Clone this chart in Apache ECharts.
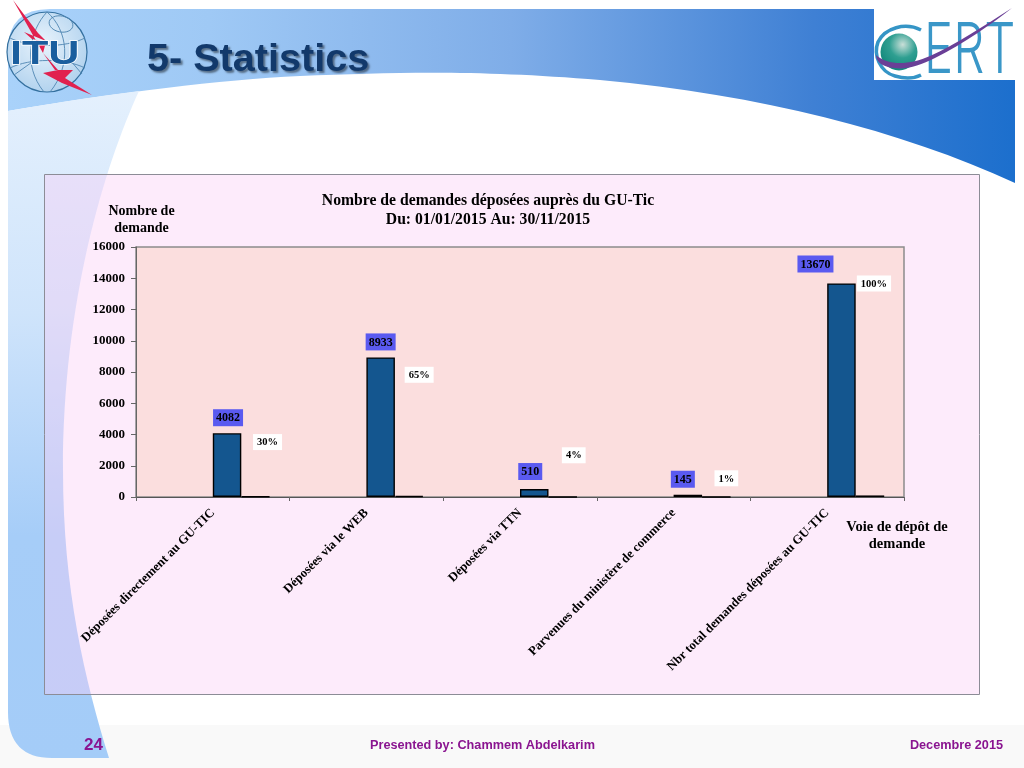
<!DOCTYPE html>
<html><head><meta charset="utf-8">
<style>html,body{margin:0;padding:0;background:#fff}#c{width:1024px;height:768px}</style>
<script src="https://cdn.jsdelivr.net/npm/echarts@6/dist/echarts.min.js"></script>
</head><body><div id="c"></div>
<script>
const categories = ['Déposées directement au GU-TIC','Déposées via le WEB','Déposées via TTN','Parvenues du ministère de commerce','Nbr total demandes déposées au GU-TIC'];
const demandes = [4082, 8933, 510, 145, 13670];
const pourcentages = [30, 65, 4, 1, 100];
const yTicks = {min: 0, max: 16000, interval: 2000};
const chartTitle = 'Nombre de demandes déposées auprès du GU-Tic\nDu: 01/01/2015 Au: 30/11/2015';
const slideTitle = '5- Statistics';
const footerPage = '24', footerAuthor = 'Presented by: Chammem Abdelkarim', footerDate = 'Decembre 2015';
// label nudges, in px from each bar's top centre
const valueNudge = [[1,0],[0,0],[-4,-2],[-5,0],[-26,-4]];
const pctNudge = [[12,-42],[10,-109],[11,-29],[10,-6],[4,-200]];

const serif = '"Liberation Serif", serif', sans = '"Liberation Sans", sans-serif';
const P = '#8a1490';
const lin = (x,y,x2,y2,a) => ({type:'linear',x,y,x2,y2,colorStops:a.map((c,i)=>({offset:i/(a.length-1),color:c}))});
let shapeId = 0;
const raw = (d,style,z) => {
  const name = 'deco' + (shapeId++);
  echarts.graphic.registerShape(name, echarts.graphic.extendPath(d, {}));
  return {type:name,shape:{},style,z,silent:true};
};

const graphic = [
 {type:'rect',shape:{x:0,y:725,width:1024,height:43},style:{fill:'#f9f9f9'},z:-30,silent:true},
 raw('M8 111 L8 50 Q8 9 50 9 L1015 9 L1015 183 C900 130 760 95 600 80 C480 70 400 72 300 76 C220 80 120 92 8 111 Z',
   {fill:{type:'linear',x:0,y:0,x2:1,y2:0.03,colorStops:[{offset:0,color:'#a9d2fa'},{offset:.2,color:'#9fc9f5'},{offset:.5,color:'#7fade8'},{offset:.8,color:'#3f80d4'},{offset:1,color:'#1c6fcd'}]}},-28),
 raw('M8 111 C60 102 100 96 139 91 C105 165 63 300 63 470 C63 590 85 680 109 758 L52 758 Q8 758 8 712 Z',
   {fill:lin(0,0,0,1,['#e4f0fd','#cfe4fb','#a6cdf8','#a4ccf8'])},-27),
 {type:'rect',shape:{x:44.5,y:174.5,width:935,height:520},style:{fill:'rgba(250,205,245,0.4)',stroke:'#8c8c96',lineWidth:1},z:-20,silent:true},
 // ITU emblem
 {type:'circle',shape:{cx:47,cy:52,r:40},style:{fill:{type:'radial',x:.45,y:.4,r:.7,colorStops:[{offset:0,color:'#e8f3fc'},{offset:1,color:'#a9cdec'}]},stroke:'#34709f',lineWidth:1.2},z:-10,silent:true},
 raw('M47 12 C68 30 72 65 50 92 M47 12 C30 30 22 65 44 92 M10 38 C30 48 65 48 85 38 M10 68 C30 58 65 58 85 68 M14 75 L35 60 M70 60 L82 74',{fill:null,stroke:'#4f86b2',lineWidth:.9},-9),
 {type:'ellipse',shape:{cx:61,cy:24,rx:12,ry:8},rotation:-0.2,originX:61,originY:24,style:{fill:null,stroke:'#4f86b2',lineWidth:.9},z:-9,silent:true},
 raw('M13 0 L38 33 L46 41 L24 32 L32 39 L46 42 L43 53 L55 70 L73 70 L65 78 L92 95 L62 83 L43 73 L58 70 L43 53 Z',{fill:'#e1214f'},-8),
 {type:'text',x:10,y:38,scaleX:1.27,style:{x:0,y:0,text:'ITU',font:'bold 34px '+sans,fill:'#1a5e9e',stroke:'#ffffff',lineWidth:1.5},z:-7,silent:true},
 // CERT logo
 {type:'rect',shape:{x:874,y:9,width:141,height:71},style:{fill:'#ffffff'},z:-10,silent:true},
 raw('M921 30 C905 22 885 28 878 42 C873 55 880 72 895 76 C905 79 915 78 921 75',{fill:null,stroke:'#3595c6',lineWidth:3.5},-9),
 {type:'circle',shape:{cx:899,cy:52,r:18.5},style:{fill:{type:'radial',x:.6,y:.3,r:.8,colorStops:[{offset:0,color:'#c9dfd8'},{offset:.45,color:'#2f9f91'},{offset:1,color:'#0b8276'}]}},z:-9,silent:true},
 {type:'text',x:924,y:17,scaleX:.7,style:{x:0,y:0,text:'ERT',font:'300 70px Inter, Lato, sans-serif',fill:'#3a97c8'},z:-8,silent:true},
 raw('M1012 8 C985 25 955 45 930 56 C910 65 888 66 876 55 C876 60 880 65 888 67 C905 71 918 66 935 58 C965 43 990 25 1012 8 Z',{fill:'#6a3f96'},-7),
];

const mk = (name, data, nudge, label, barZ) => ({
  name, type:'bar', barWidth:28.5, barGap:0, z:barZ,
  itemStyle:{color:'#14568f',borderColor:'#000',borderWidth:1.4},
  data:data.map((v,i)=>({value:v,label:{offset:nudge[i]}})), label
});
const chart = echarts.init(document.getElementById('c'),null,{renderer:'canvas'});
chart.setOption({
  animation:false, backgroundColor:'transparent',
  graphic:{elements:graphic},
  title:[
   {text:chartTitle,left:483,top:186,textAlign:'center',textStyle:{fontFamily:serif,fontWeight:'bold',fontSize:15.7,lineHeight:19,color:'#000'}},
   {text:slideTitle,left:142,top:35,textStyle:{fontFamily:sans,fontWeight:'bold',fontSize:39.6,color:'#12396b',textShadowColor:'rgba(0,0,0,.45)',textShadowBlur:2,textShadowOffsetX:2,textShadowOffsetY:2}},
   {text:footerPage,left:79,top:732,textStyle:{fontFamily:sans,fontWeight:'bold',fontSize:17,color:P}},
   {text:footerAuthor,left:365,top:734,textStyle:{fontFamily:sans,fontWeight:'bold',fontSize:12.7,color:P}},
   {text:footerDate,right:16,top:734,textStyle:{fontFamily:sans,fontWeight:'bold',fontSize:12.7,color:P}}
  ],
  grid:{left:136,top:247,width:768,height:250,show:true,backgroundColor:'#fbdede',borderColor:'#8c8c8c',borderWidth:1.5,containLabel:false},
  xAxis:{type:'category',data:categories,
    name:'Voie de dépôt de\ndemande',nameLocation:'end',nameGap:0,
    nameTextStyle:{fontFamily:serif,fontWeight:'bold',fontSize:14.5,lineHeight:17,color:'#000',align:'center',verticalAlign:'top',padding:[22,0,0,-14]},
    axisLine:{lineStyle:{color:'#555',width:1.2}},axisTick:{show:true,length:4,alignWithLabel:false,lineStyle:{color:'#666'}},
    axisLabel:{rotate:45,interval:0,margin:14,fontFamily:serif,fontWeight:'bold',fontSize:12.7,color:'#000'}},
  yAxis:{type:'value',min:yTicks.min,max:yTicks.max,interval:yTicks.interval,
    name:'Nombre de\ndemande',nameLocation:'end',nameGap:10,
    nameTextStyle:{fontFamily:serif,fontWeight:'bold',fontSize:14,lineHeight:17,color:'#000',align:'center',padding:[0,0,0,11]},
    axisLine:{show:true,lineStyle:{color:'#666'}},axisTick:{show:true,length:5,lineStyle:{color:'#666'}},splitLine:{show:false},
    axisLabel:{margin:11,fontFamily:serif,fontWeight:'bold',fontSize:13,color:'#000',formatter:v=>String(v)}},
  series:[
   {type:'bar',name:'',barWidth:28.5,barGap:0,data:[]},
   {type:'bar',name:' ',barWidth:28.5,barGap:0,data:[]},
   mk('Demandes',demandes,valueNudge,{show:true,position:'top',distance:7,backgroundColor:'#5a5af0',padding:[3,3,2,3],fontFamily:serif,fontWeight:'bold',fontSize:12,color:'#000'},3),
   mk('Pourcentage',pourcentages,pctNudge,{show:true,position:'top',distance:4,backgroundColor:'#fff',padding:[3,4,2,4],fontFamily:serif,fontWeight:'bold',fontSize:10.5,color:'#000',formatter:p=>p.value+'%'},3)
  ]
});
</script></body></html>
